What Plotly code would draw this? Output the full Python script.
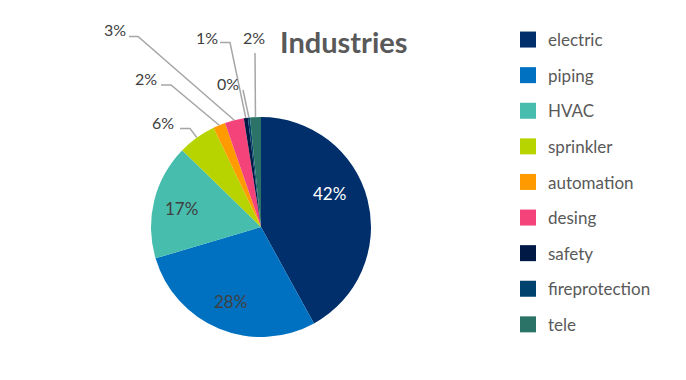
import math
import plotly.graph_objects as go

# ---- data ----
categories = ["electric", "piping", "HVAC", "sprinkler", "automation",
              "desing", "safety", "fireprotection", "tele"]
values = [42.0, 28.4, 16.9, 5.6, 1.8, 2.8, 0.6, 0.3, 1.6]
colors = ["#002F6C", "#0070C0", "#47BDAD", "#B7D300", "#FF9B00",
          "#F4437B", "#001A45", "#00426E", "#2A7366"]
title_text = "Industries"

# ---- layout geometry (pixels in the page) ----
W, H = 686, 380
OFF = 8  # page body margin
CX, CY, R = 261, 227, 110
FONT = "Lato"

def px(x):
    return (x - OFF) / W

def py(y):
    return 1 - (y - OFF) / H

# inside label placement (label x, label y, text colour)
inside_pos = {
    0: (329, 193, "white"),
    1: (230, 301, "#404040"),
    2: (181, 208, "#404040"),
}
# outside label placement: (label x, label y, line start x, line start y, elbow x, elbow y)
outside_pos = {
    3: (163, 122, 180, 128.5, 190, 128.5),
    4: (146, 78, 161, 85, 171, 85),
    5: (115, 30, 129, 36.5, 138, 36.5),
    6: (207, 37, 220, 42.5, 230, 42.5),
    7: (228, 83, 243, 90, 243, 90),
    8: (254, 37, 255, 53, 255, 53),
}

total = sum(values)
pcts = [v / total for v in values]

fig = go.Figure()
fig.add_trace(go.Pie(
    labels=categories, values=values, sort=False, direction="clockwise",
    rotation=0,
    marker=dict(colors=colors, line=dict(width=0)),
    textinfo="none",
    domain=dict(x=[px(CX - R), px(CX + R)], y=[py(CY + R), py(CY - R)]),
    showlegend=False, hoverinfo="label+percent",
))

# legend entries
for cat, col in zip(categories, colors):
    fig.add_trace(go.Scatter(
        x=[None], y=[None], mode="markers", name=cat, legendgroup=cat,
        marker=dict(symbol="square", size=16, color=col), showlegend=True,
    ))

shapes = []
annotations = []
cum = 0.0
for i, p in enumerate(pcts):
    mid = (cum + p / 2) * 2 * math.pi
    cum += p
    label = "{:.0f}%".format(round(p * 100))
    if i in inside_pos:
        lx, ly, tc = inside_pos[i]
        annotations.append(dict(
            text=label, x=px(lx), y=py(ly), xref="paper", yref="paper",
            xanchor="center", yanchor="middle", showarrow=False,
            font=dict(family=FONT, size=17, color=tc)))
        continue
    lx, ly, sx, sy, ex, ey = outside_pos[i]
    edge_x = CX + R * math.sin(mid)
    edge_y = CY - R * math.cos(mid)
    path = "M {:.5f},{:.5f} L {:.5f},{:.5f} L {:.5f},{:.5f}".format(
        px(sx), py(sy), px(ex), py(ey), px(edge_x), py(edge_y))
    shapes.append(dict(type="path", path=path, xref="paper", yref="paper",
                       line=dict(color="#A6A6A6", width=1.5)))
    annotations.append(dict(
        text=label, x=px(lx), y=py(ly),
        xref="paper", yref="paper", xanchor="center", yanchor="middle",
        showarrow=False, font=dict(family=FONT, size=16, color="#404040")))

fig.update_layout(
    width=W, height=H,
    margin=dict(l=0, r=0, t=0, b=0),
    paper_bgcolor="white", plot_bgcolor="white",
    xaxis=dict(visible=False), yaxis=dict(visible=False),
    title=dict(text="<b>" + title_text + "</b>", x=px(280), xanchor="left",
               y=py(43), yanchor="middle",
               font=dict(family=FONT, size=29, color="#595959")),
    legend=dict(x=px(508), y=py(22), xanchor="left", yanchor="top",
                font=dict(family=FONT, size=17, color="#595959"),
                tracegroupgap=10.5, itemwidth=30, bgcolor="rgba(0,0,0,0)"),
    shapes=shapes, annotations=annotations,
)

fig.write_html("out.html")
